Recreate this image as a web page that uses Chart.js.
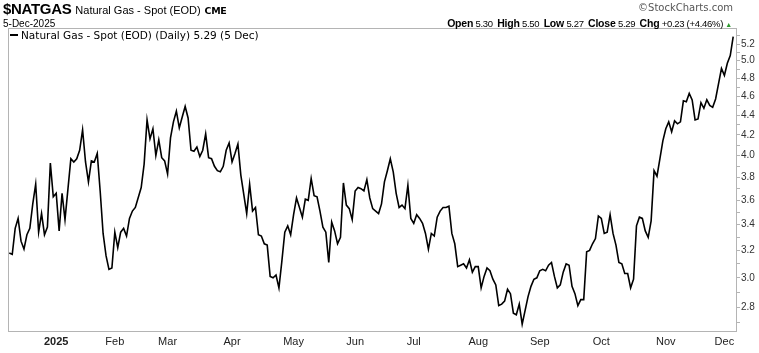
<!DOCTYPE html>
<html>
<head>
<meta charset="utf-8">
<script src="https://cdn.jsdelivr.net/npm/chart.js@4.4.1/dist/chart.umd.min.js"></script>
<style>
  html, body { margin: 0; padding: 0; background: #fff; }
  #wrap { position: relative; width: 759px; height: 353px; overflow: hidden; }
  #chart { position: absolute; left: 0; top: 0; }
  .t { position: absolute; white-space: nowrap; color: #000; font-family: "Liberation Sans", Arial, sans-serif; }
  #sym { left: 3px; top: 0px; font-size: 15px; font-weight: bold; letter-spacing: -0.3px; }
  #sym span { font-weight: normal; font-size: 11px; letter-spacing: 0; }
  #sym small { font-size: 9.5px; font-family: "DejaVu Sans", sans-serif; }
  #date { left: 3px; top: 18px; font-size: 10px; }
  #copy { right: 26px; top: 2px; font-size: 10px; color: #555; font-family: "DejaVu Sans", sans-serif; }
  #quote { right: 27px; top: 17px; font-size: 9.5px; letter-spacing: -0.3px; }
  #quote b { font-size: 10.5px; letter-spacing: -0.2px; margin-left: 2px; }
  #quote b:first-child { margin-left: 0; }
  #quote i { font-style: normal; color: #2f9a2f; font-size: 7px; }
  #legend { left: 10px; top: 29px; font-size: 10.5px; font-family: "DejaVu Sans", sans-serif; }
  #legend span { display: inline-block; width: 8px; height: 2px; background: #000; vertical-align: middle; margin-right: 3px; position: relative; top: -1px; }
</style>
</head>
<body>
<div id="wrap">
  <canvas id="chart" width="759" height="353"></canvas>
  <div class="t" id="sym">$NATGAS <span>Natural Gas - Spot (EOD)</span> <small>CME</small></div>
  <div class="t" id="date">5-Dec-2025</div>
  <div class="t" id="copy">&copy;StockCharts.com</div>
  <div class="t" id="quote"><b>Open</b> 5.30 <b>High</b> 5.50 <b>Low</b> 5.27 <b>Close</b> 5.29 <b>Chg</b> +0.23 (+4.46%) <i>&#9650;</i></div>
  <div class="t" id="legend"><span></span>Natural Gas - Spot (EOD) (Daily) 5.29 (5 Dec)</div>
</div>
<script>
// trading-day index (0 = mid Dec 2024) and daily close
const days = [
  0, 1, 2, 3, 4, 5, 6, 7, 8, 9, 10, 11, 12, 13, 14, 15, 16, 17, 18, 19,
  21, 22, 23, 24, 25, 26, 27, 28, 29, 30, 31, 32, 33, 34, 35, 36, 37, 38, 39, 40,
  41, 42, 43, 45, 46, 47, 48, 49, 50, 51, 52, 53, 54, 55, 56, 57, 58, 59, 60, 61,
  62, 63, 64, 65, 66, 67, 68, 69, 70, 71, 72, 73, 74, 75, 76, 77, 78, 79, 81, 82,
  83, 84, 85, 86, 87, 88, 89, 90, 91, 92, 93, 94, 95, 96, 97, 98, 99, 100, 101, 102,
  103, 104, 105, 106, 107, 108, 109, 110, 111, 112, 113, 114, 115, 116, 117, 118, 119, 120, 121, 122,
  123, 124, 125, 126, 127, 128, 129, 130, 131, 132, 133, 134, 135, 136, 137, 138, 139, 140, 141, 142,
  143, 144, 145, 146, 147, 148, 149, 150, 151, 152, 153, 154, 155, 156, 157, 158, 159, 160, 161, 162,
  163, 164, 165, 166, 167, 168, 169, 170, 171, 172, 173, 174, 175, 177, 178, 179, 180, 181, 182, 183,
  184, 185, 186, 187, 188, 189, 190, 191, 192, 193, 194, 195, 196, 197, 198, 199, 200, 201, 202, 203,
  204, 205, 206, 207, 208, 209, 210, 211, 212, 213, 214, 215, 216, 217, 218, 219, 220, 221, 222, 223,
  224, 225, 226, 227, 228, 229, 230, 231, 232, 233, 234, 235, 236, 237, 238, 239, 240, 241, 243, 244,
  245, 246, 247
];
const prices = [
  3.18, 3.17, 3.37, 3.45, 3.27, 3.21, 3.32, 3.37, 3.57, 3.74, 3.34, 3.49, 3.32, 3.38, 3.93, 3.63, 3.66, 3.35, 3.66, 3.44,
  3.97, 3.94, 3.97, 4.05, 4.25, 3.94, 3.76, 3.95, 3.94, 4.02, 3.68, 3.33, 3.16, 3.06, 3.07, 3.34, 3.22, 3.34, 3.37, 3.31,
  3.45, 3.51, 3.54, 3.71, 3.92, 4.35, 4.16, 4.26, 4.00, 4.15, 3.98, 3.95, 3.83, 4.17, 4.33, 4.44, 4.27, 4.38, 4.49, 4.37,
  4.05, 4.04, 4.08, 3.99, 4.05, 4.21, 3.98, 3.97, 3.90, 3.86, 3.85, 3.90, 4.05, 4.12, 3.94, 4.02, 4.11, 3.82, 3.49, 3.74,
  3.51, 3.54, 3.32, 3.31, 3.25, 3.24, 3.01, 3.00, 3.02, 2.93, 3.12, 3.34, 3.39, 3.32, 3.48, 3.62, 3.54, 3.46, 3.61, 3.60,
  3.79, 3.64, 3.63, 3.51, 3.38, 3.34, 3.11, 3.42, 3.35, 3.25, 3.30, 3.75, 3.56, 3.53, 3.44, 3.68, 3.71, 3.70, 3.68, 3.78,
  3.62, 3.53, 3.51, 3.49, 3.57, 3.76, 3.86, 3.97, 3.85, 3.66, 3.54, 3.56, 3.53, 3.73, 3.45, 3.41, 3.48, 3.45, 3.41, 3.33,
  3.21, 3.33, 3.31, 3.46, 3.51, 3.54, 3.54, 3.55, 3.33, 3.25, 3.08, 3.09, 3.10, 3.07, 3.13, 3.04, 3.08, 3.08, 2.93, 3.01,
  3.07, 3.05, 2.99, 2.95, 2.81, 2.82, 2.84, 2.92, 2.89, 2.76, 2.75, 2.82, 2.69, 2.87, 2.94, 2.99, 3.00, 3.05, 3.06, 3.05,
  3.09, 3.11, 3.01, 2.93, 2.95, 3.04, 3.10, 3.09, 2.94, 2.89, 2.81, 2.85, 2.85, 3.19, 3.20, 3.25, 3.29, 3.47, 3.45, 3.33,
  3.34, 3.48, 3.33, 3.24, 3.11, 3.10, 3.03, 3.03, 2.93, 2.99, 3.39, 3.46, 3.45, 3.35, 3.30, 3.43, 3.86, 3.81, 3.97, 4.14,
  4.26, 4.33, 4.23, 4.34, 4.31, 4.33, 4.55, 4.54, 4.63, 4.56, 4.35, 4.36, 4.53, 4.47, 4.56, 4.50, 4.48, 4.57, 4.91, 4.83,
  4.97, 5.06, 5.29
];

// month label positions (trading-day index) and texts
const monthTicks = [16, 36, 54, 76, 97, 118, 138, 160, 181, 202, 224, 244];
const monthLabels = ['2025', 'Feb', 'Mar', 'Apr', 'May', 'Jun', 'Jul', 'Aug', 'Sep', 'Oct', 'Nov', 'Dec'];

// price axis ticks (labels on every 0.2, small marks on every 0.1)
const yTicks = [2.7, 2.8, 2.9, 3.0, 3.1, 3.2, 3.3, 3.4, 3.5, 3.6, 3.7, 3.8, 3.9, 4.0,
  4.1, 4.2, 4.3, 4.4, 4.5, 4.6, 4.7, 4.8, 4.9, 5.0, 5.1, 5.2, 5.3];

const points = days.map((d, i) => ({ x: d, y: prices[i] }));

// light grey frame round the plot
const frame = {
  id: 'frame',
  afterDraw(chart) {
    const { ctx, chartArea: a } = chart;
    ctx.save();
    ctx.strokeStyle = '#b4b4b4';
    ctx.lineWidth = 1;
    ctx.strokeRect(Math.round(a.left) + 0.5, Math.round(a.top) + 0.5,
      Math.round(a.right - a.left) - 1, Math.round(a.bottom - a.top));
    ctx.restore();
  }
};

new Chart(document.getElementById('chart'), {
  type: 'line',
  data: {
    datasets: [{
      data: points,
      borderColor: '#000',
      borderWidth: 1.6,
      pointRadius: 0,
      tension: 0,
      fill: false
    }]
  },
  options: {
    responsive: false,
    animation: false,
    events: [],
    layout: { padding: { left: 8, top: 28, right: 0, bottom: 0 } },
    plugins: { legend: { display: false }, tooltip: { enabled: false } },
    scales: {
      x: {
        type: 'linear',
        min: -0.45,
        max: 248.3,
        afterBuildTicks: s => { s.ticks = monthTicks.map(v => ({ value: v })); },
        afterFit: s => { s.height = 22; },
        grid: { display: false, drawTicks: false },
        border: { display: false },
        ticks: {
          autoSkip: false,
          maxRotation: 0,
          padding: 4,
          color: '#222',
          font: c => ({
            family: '"Liberation Sans Narrow", "Arial Narrow", "Liberation Sans", sans-serif',
            size: 11,
            weight: c.index === 0 ? 'bold' : 'normal'
          }),
          callback: v => monthLabels[monthTicks.indexOf(v)]
        }
      },
      y: {
        type: 'logarithmic',
        position: 'right',
        min: 2.647,
        max: 5.40,
        afterBuildTicks: s => { s.ticks = yTicks.map(v => ({ value: v })); },
        afterFit: s => { s.width = 22; },
        grid: { drawOnChartArea: false, drawTicks: true, tickLength: 3, color: '#b4b4b4' },
        border: { display: false },
        ticks: {
          autoSkip: false,
          padding: 1,
          color: '#333',
          font: { family: '"Liberation Sans", Arial, sans-serif', size: 10 },
          callback: v => (Math.round(v * 10) % 2 === 0 ? v.toFixed(1) : '')
        }
      }
    }
  },
  plugins: [frame]
});
</script>
</body>
</html>
